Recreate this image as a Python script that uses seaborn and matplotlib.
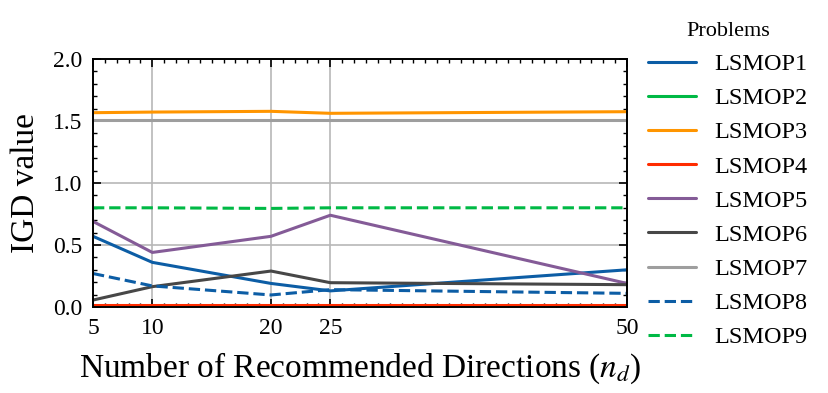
import matplotlib
matplotlib.use("Agg")
import matplotlib.pyplot as plt
from matplotlib.ticker import MultipleLocator
import seaborn as sns
import pandas as pd

# Number of recommended directions
nd = [5, 10, 20, 25, 50]

# IGD values per problem
lsmop1 = [0.57, 0.36, 0.19, 0.13, 0.30]
lsmop2 = [0.01, 0.01, 0.01, 0.01, 0.01]
lsmop3 = [1.567, 1.572, 1.578, 1.562, 1.575]
lsmop4 = [0.015, 0.015, 0.015, 0.015, 0.015]
lsmop5 = [0.69, 0.44, 0.57, 0.74, 0.19]
lsmop6 = [0.056, 0.164, 0.29, 0.196, 0.18]
lsmop7 = [1.505, 1.505, 1.505, 1.505, 1.505]
lsmop8 = [0.27, 0.17, 0.097, 0.14, 0.11]
lsmop9 = [0.80, 0.80, 0.795, 0.80, 0.80]

problems = ["LSMOP%d" % i for i in range(1, 10)]
series = [lsmop1, lsmop2, lsmop3, lsmop4, lsmop5, lsmop6, lsmop7, lsmop8, lsmop9]

# Long-form frame for seaborn
rows = []
for name, vals in zip(problems, series):
    for x, y in zip(nd, vals):
        rows.append({"nd": x, "igd": y, "problem": name})
df = pd.DataFrame(rows)

colors = ["#0C5DA5", "#00B945", "#FF9500", "#FF2C00", "#845B97",
          "#474747", "#9e9e9e", "#0C5DA5", "#00B945"]
palette = dict(zip(problems, colors))
dashes = {p: "" for p in problems}
dashes["LSMOP8"] = (3.7, 1.6)
dashes["LSMOP9"] = (3.7, 1.6)

sns.set_style("ticks")
plt.rcParams["font.family"] = ["Liberation Serif", "DejaVu Serif"]
plt.rcParams["mathtext.fontset"] = "stix"

fig, ax = plt.subplots(figsize=(8.29, 3.93), dpi=100)
fig.subplots_adjust(left=93 / 829, right=627 / 829, top=1 - 59 / 393, bottom=1 - 307 / 393)

sns.lineplot(data=df, x="nd", y="igd", hue="problem", style="problem",
             palette=palette, dashes=dashes, linewidth=2.2, ax=ax)

ax.set_xlim(5, 50)
ax.set_ylim(0, 2.0)
ax.set_xticks(nd)
ax.xaxis.set_minor_locator(MultipleLocator(1))
ax.yaxis.set_major_locator(MultipleLocator(0.5))
ax.yaxis.set_minor_locator(MultipleLocator(0.1))
ax.tick_params(which="both", direction="in", top=True, right=True,
               labelsize=17, color="black", labelcolor="black")
ax.tick_params(which="major", length=6, width=1.2, pad=8)
ax.tick_params(which="minor", length=3, width=1)
ax.grid(True, which="major", color="#b8b8b8", linewidth=1.2)
for s in ax.spines.values():
    s.set_linewidth(1.4)
    s.set_color("black")

ax.set_xlabel(r"Number of Recommended Directions ($n_d$)", fontsize=24,
              labelpad=8, color="black")
ax.set_ylabel("IGD value", fontsize=24, labelpad=8, color="black")

handles, labels = ax.get_legend_handles_labels()
leg = ax.legend(handles, labels, title="Problems", frameon=False, fontsize=17.5,
                title_fontsize=16, loc="upper left", bbox_to_anchor=(626 / 829, 1.0),
                bbox_transform=fig.transFigure, handlelength=2.0, handletextpad=0.75,
                labelspacing=0.5)
for t in leg.get_texts():
    t.set_color("black")
leg.get_title().set_color("black")

fig.savefig("out.png", dpi=100)
